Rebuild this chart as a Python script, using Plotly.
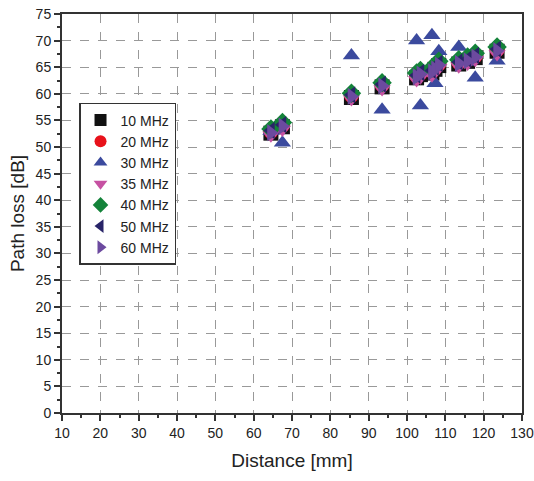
import plotly.graph_objects as go

distance = [64.5, 67.5, 85.5, 93.5, 102.5, 103.5, 106.5, 107.3, 108.3, 113.5, 115.8, 117.8, 123.5]

loss_10 = [52.6, 53.8, 59.3, 61.3, 63.0, 63.6, 63.9, 64.6, 65.3, 65.6, 66.1, 66.8, 68.0]
loss_20 = [52.9, 54.1, 59.7, 61.7, 63.4, 63.9, 64.3, 64.9, 65.6, 65.9, 66.4, 67.1, 68.3]
loss_30 = [53.0, 50.8, 67.2, 57.0, 70.0, 57.8, 71.0, 62.0, 68.0, 68.8, 66.0, 63.0, 66.2]
loss_35 = [52.2, 53.3, 59.0, 60.9, 62.6, 63.1, 63.5, 64.1, 64.9, 65.2, 65.7, 66.4, 67.5]
loss_40 = [53.4, 54.6, 60.1, 62.1, 63.9, 64.4, 64.8, 65.4, 66.1, 66.4, 66.9, 67.6, 68.8]
loss_50 = [53.1, 54.2, 59.8, 61.8, 63.5, 64.0, 64.4, 65.0, 65.7, 66.0, 66.5, 67.2, 68.4]
loss_60 = [52.7, 53.9, 59.5, 61.5, 63.2, 63.7, 64.1, 64.7, 65.4, 65.7, 66.2, 66.9, 68.1]

series = [
    ("10 MHz", loss_10, "square", "#111111"),
    ("20 MHz", loss_20, "circle", "#e8121b"),
    ("30 MHz", loss_30, "triangle-up", "#3b4a9e"),
    ("35 MHz", loss_35, "triangle-down", "#c651a2"),
    ("40 MHz", loss_40, "diamond", "#14833a"),
    ("50 MHz", loss_50, "triangle-left", "#282468"),
    ("60 MHz", loss_60, "triangle-right", "#6c4a9f"),
]

x_ticks = list(range(10, 131, 10))
y_ticks = list(range(0, 76, 5))

fig = go.Figure()
for name, vals, sym, col in series:
    fig.add_trace(go.Scatter(
        x=distance, y=vals, mode="markers", name=name,
        marker=dict(symbol=sym, color=col, size=15, line=dict(width=0)),
    ))

fig.update_layout(
    width=534, height=481,
    margin=dict(l=62, r=12, t=14, b=68),
    paper_bgcolor="white", plot_bgcolor="white",
    font=dict(family="Liberation Sans", size=14, color="#222"),
    legend=dict(
        x=0.037, y=0.777, xanchor="left", yanchor="top",
        bgcolor="white", bordercolor="#333", borderwidth=1.5,
        font=dict(size=14), tracegroupgap=0, itemsizing="constant",
    ),
    showlegend=True,
)
fig.update_xaxes(
    range=[10, 130], tickmode="array", tickvals=x_ticks,
    ticktext=[str(v) for v in x_ticks], automargin=False,
    ticklabeloverflow="allow",
    showgrid=True, gridcolor="#999", griddash="dash", gridwidth=1,
    showline=True, linecolor="#333", linewidth=2, mirror=True,
    ticks="outside", ticklen=6, tickwidth=1.5, tickcolor="#333",
    minor=dict(ticks="outside", ticklen=3, dtick=5, tick0=10, tickcolor="#333", showgrid=False),
    zeroline=False,
    title=dict(text="Distance [mm]", font=dict(size=19), standoff=14),
)
fig.update_yaxes(
    range=[0, 75], tickmode="array", tickvals=y_ticks,
    ticktext=[str(v) for v in y_ticks], automargin=False,
    ticklabeloverflow="allow",
    showgrid=True, gridcolor="#999", griddash="dash", gridwidth=1,
    showline=True, linecolor="#333", linewidth=2, mirror=True,
    ticks="outside", ticklen=6, tickwidth=1.5, tickcolor="#333",
    minor=dict(ticks="outside", ticklen=3, dtick=2.5, tick0=0, tickcolor="#333", showgrid=False),
    zeroline=False,
    title=dict(text="Path loss [dB]", font=dict(size=19), standoff=6),
)

fig.write_html(
    "out.html",
    config={"displayModeBar": False},
    post_script="document.body.style.margin='0';document.body.style.overflow='hidden';",
)
